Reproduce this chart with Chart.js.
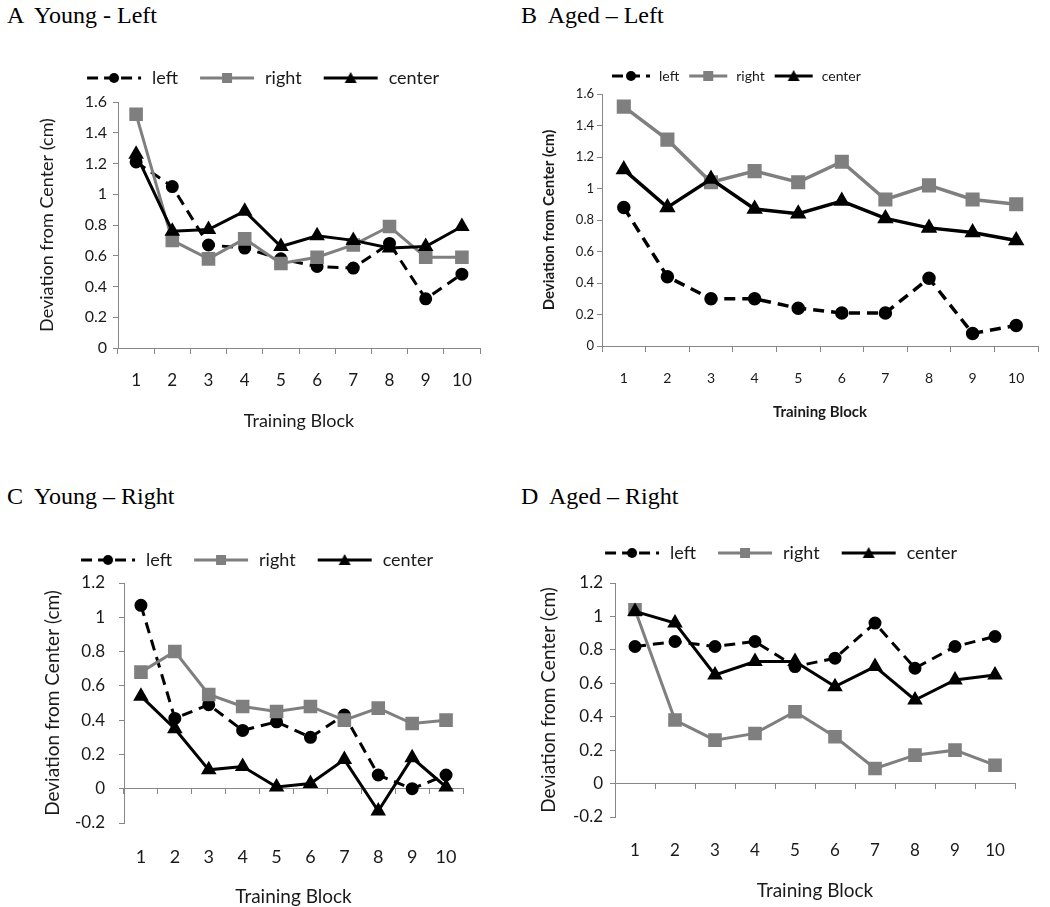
<!DOCTYPE html>
<html>
<head>
<meta charset="utf-8">
<script src="https://cdn.jsdelivr.net/npm/chart.js@4.4.1/dist/chart.umd.min.js"></script>
<style>
  body { margin: 0; background: #fff; width: 1050px; height: 907px; overflow: hidden; position: relative; }
  .ttl { position: absolute; font-family: "Liberation Serif", "Times New Roman", serif; font-size: 24px; line-height: 28px; white-space: pre; color: #000; }
  canvas { position: absolute; }
</style>
</head>
<body>
<div class="ttl" style="left:7px;top:1px">A  Young - Left</div>
<div class="ttl" style="left:521px;top:1px">B  Aged – Left</div>
<div class="ttl" style="left:7px;top:482px">C  Young – Right</div>
<div class="ttl" style="left:521px;top:482px">D  Aged – Right</div>

<canvas id="chartA" width="500" height="383" style="left:0px;top:57px"></canvas>
<canvas id="chartB" width="530" height="364" style="left:520px;top:61px"></canvas>
<canvas id="chartC" width="500" height="373" style="left:0px;top:539px"></canvas>
<canvas id="chartD" width="530" height="374" style="left:520px;top:532px"></canvas>

<script>
const blocks = ['1', '2', '3', '4', '5', '6', '7', '8', '9', '10'];
const seriesLabels = ['left', 'right', 'center'];

// A  Young - Left
const aLeft   = [1.21, 1.05, 0.67, 0.65, 0.58, 0.53, 0.52, 0.68, 0.32, 0.48];
const aRight  = [1.52, 0.70, 0.58, 0.71, 0.55, 0.59, 0.67, 0.79, 0.59, 0.59];
const aCenter = [1.26, 0.76, 0.77, 0.89, 0.66, 0.73, 0.70, 0.65, 0.66, 0.79];

// B  Aged - Left
const bLeft   = [0.88, 0.44, 0.30, 0.30, 0.24, 0.21, 0.21, 0.43, 0.08, 0.13];
const bRight  = [1.52, 1.31, 1.04, 1.11, 1.04, 1.17, 0.93, 1.02, 0.93, 0.90];
const bCenter = [1.12, 0.88, 1.06, 0.87, 0.84, 0.92, 0.81, 0.75, 0.72, 0.67];

// C  Young - Right
const cLeft   = [1.07, 0.41, 0.49, 0.34, 0.39, 0.30, 0.43, 0.08, 0.00, 0.08];
const cRight  = [0.68, 0.80, 0.55, 0.48, 0.45, 0.48, 0.40, 0.47, 0.38, 0.40];
const cCenter = [0.54, 0.35, 0.11, 0.13, 0.01, 0.03, 0.17, -0.13, 0.18, 0.01];

// D  Aged - Right
const dLeft   = [0.82, 0.85, 0.82, 0.85, 0.70, 0.75, 0.96, 0.69, 0.82, 0.88];
const dRight  = [1.04, 0.38, 0.26, 0.30, 0.43, 0.28, 0.09, 0.17, 0.20, 0.11];
const dCenter = [1.03, 0.96, 0.65, 0.73, 0.73, 0.58, 0.70, 0.50, 0.62, 0.65];

const yRangeLeftTask  = [0, 1.6];    // A, B
const yRangeRightTask = [-0.2, 1.2]; // C, D
const yStep = 0.2;

const axisGrey = '#878787';
const lineGrey = '#7f7f7f';
const textCol = '#1a1a1a';

// excel style tick text: 1 not 1.0, 0 not -0.0
const fmt = v => String(Math.round(v * 10) / 10 + 0);

// little line + marker picture used as the legend symbol
function sample(w, x0, x1, color, dash, shape) {
  const c = document.createElement('canvas');
  c.width = w; c.height = 16;
  const g = c.getContext('2d');
  g.strokeStyle = color; g.fillStyle = color; g.lineWidth = 3;
  g.setLineDash(dash);
  g.beginPath(); g.moveTo(x0, 8); g.lineTo(x1, 8); g.stroke();
  g.setLineDash([]);
  const m = (x0 + x1) / 2;
  g.beginPath();
  if (shape === 'circle') g.arc(m, 8, 5, 0, Math.PI * 2);
  else if (shape === 'rect') g.rect(m - 5, 3, 10, 10);
  else { g.moveTo(m, 2); g.lineTo(m + 6, 13); g.lineTo(m - 6, 13); g.closePath(); }
  g.fill();
  return c;
}

function makeChart(id, left, right, center, range, o) {
  const samples = [
    sample(o.sw, o.sx0, o.sx1, '#000', [11, 6], 'circle'),
    sample(o.sw, o.sx0, o.sx1, lineGrey, [], 'rect'),
    sample(o.sw, o.sx0, o.sx1, '#000', [], 'triangle')
  ];
  const fam = 'Lato';
  const scales = {
    x: {
      offset: true,
      grid: { display: !o.zero, offset: true, drawOnChartArea: false, drawTicks: !o.zero, tickLength: 6, color: axisGrey },
      border: { display: !o.zero, color: axisGrey },
      ticks: { color: textCol, font: { family: fam, size: o.xTick }, padding: o.xPad },
      title: { display: true, text: 'Training Block', color: textCol,
               font: { family: fam, size: o.tSize, weight: o.tWeight }, padding: 0 },
      afterFit: s => { s.height = o.xH; }
    },
    y: {
      min: range[0], max: range[1],
      ticks: { stepSize: yStep, color: textCol, font: { family: fam, size: o.yTick }, padding: o.yPad, callback: fmt },
      grid: { drawOnChartArea: false, tickLength: 5, color: axisGrey },
      border: { color: axisGrey },
      title: { display: true, text: 'Deviation from Center (cm)', color: textCol,
               font: { family: fam, size: o.tSize, weight: o.tWeight }, padding: 0 },
      afterFit: s => { s.width = o.yW; }
    },
    // empty band between legend and plot
    gap: {
      type: 'category', position: 'top',
      grid: { display: false, drawTicks: false }, border: { display: false }, ticks: { display: false },
      afterFit: s => { s.height = o.gap; }
    }
  };
  if (o.zero) {
    scales.x0 = {
      type: 'category', axis: 'x', position: { y: 0 }, offset: true,
      grid: { offset: true, drawOnChartArea: false, drawTicks: true, tickLength: 5, color: axisGrey },
      border: { color: axisGrey },
      ticks: { display: false }
    };
  }
  return new Chart(document.getElementById(id), {
    type: 'line',
    data: {
      labels: blocks,
      datasets: [
        { label: seriesLabels[0], data: left, borderColor: '#000', backgroundColor: '#000',
          borderWidth: o.lw, borderDash: [11, 7], pointStyle: 'circle', pointRadius: 5, order: 3 },
        { label: seriesLabels[1], data: right, borderColor: lineGrey, backgroundColor: lineGrey,
          borderWidth: o.lw, pointStyle: 'rect', pointRadius: 7.5, order: 2 },
        { label: seriesLabels[2], data: center, borderColor: '#000', backgroundColor: '#000',
          borderWidth: o.lw, pointStyle: 'triangle', pointRadius: 6, order: 1 }
      ]
    },
    options: {
      responsive: false,
      animation: false,
      layout: { padding: { left: o.padL, right: o.padR, top: 0, bottom: o.padB } },
      scales: scales,
      plugins: {
        tooltip: { enabled: false },
        legend: {
          position: 'top',
          align: o.lAlign,
          fullSize: o.lFull,
          labels: {
            usePointStyle: true,
            pointStyleWidth: o.sw,
            padding: o.lPad,
            color: textCol,
            font: { family: fam, size: o.lFont },
            generateLabels: chart => chart.data.datasets.map((d, i) => ({
              text: d.label, pointStyle: samples[i], datasetIndex: i, hidden: false,
              fillStyle: '#000', strokeStyle: '#000', lineWidth: 0, fontColor: textCol
            }))
          }
        }
      }
    }
  });
}

makeChart('chartA', aLeft, aRight, aCenter, yRangeLeftTask, {
  padL: 36, padR: 20, padB: 8, yW: 82, xH: 84, gap: 5,
  xTick: 17, xPad: 16, yTick: 16, yPad: 6, tSize: 18, tWeight: 'normal', lw: 3,
  lFont: 18, lPad: 12, lAlign: 'center', lFull: true, sw: 66, sx0: 10, sx1: 64, zero: false
});

makeChart('chartB', bLeft, bRight, bCenter, yRangeLeftTask, {
  padL: 20, padR: 12, padB: 4, yW: 62, xH: 75, gap: 1,
  xTick: 14, xPad: 18, yTick: 13, yPad: 3, tSize: 15, tWeight: 'bold', lw: 3.5,
  lFont: 14, lPad: 8, lAlign: 'start', lFull: false, sw: 42, sx0: 2, sx1: 40, zero: false
});

makeChart('chartC', cLeft, cRight, cCenter, yRangeRightTask, {
  padL: 41, padR: 37, padB: 4, yW: 83, xH: 85, gap: 4,
  xTick: 18, xPad: 23, yTick: 17, yPad: 14, tSize: 19, tWeight: 'normal', lw: 3,
  lFont: 18, lPad: 12, lAlign: 'center', lFull: true, sw: 66, sx0: 10, sx1: 64, zero: true
});

makeChart('chartD', dLeft, dRight, dCenter, yRangeRightTask, {
  padL: 17, padR: 35, padB: 4, yW: 78, xH: 85, gap: 11,
  xTick: 17, xPad: 23, yTick: 17, yPad: 7, tSize: 19, tWeight: 'normal', lw: 3,
  lFont: 18, lPad: 12, lAlign: 'center', lFull: true, sw: 66, sx0: 10, sx1: 64, zero: true
});
</script>
</body>
</html>
